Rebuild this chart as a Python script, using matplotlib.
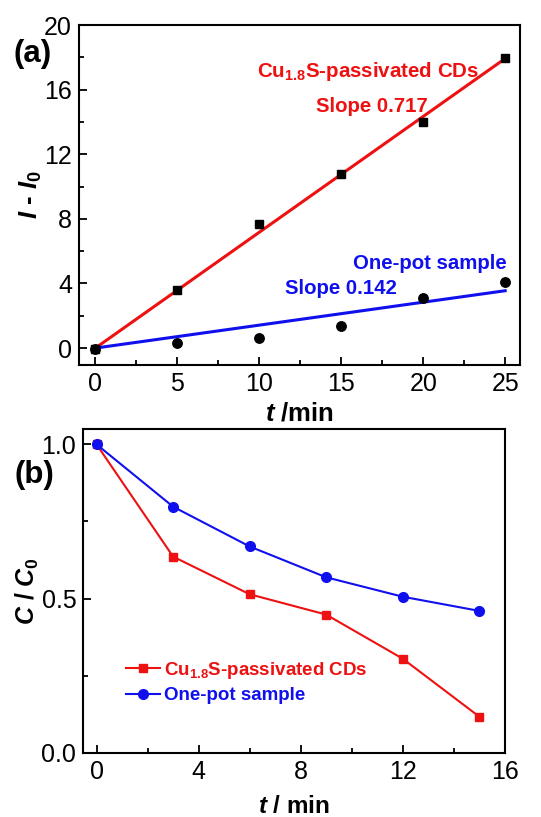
import numpy as np
import matplotlib
matplotlib.use('Agg')
import matplotlib.pyplot as plt
from matplotlib.ticker import MultipleLocator

plt.rcParams['font.family'] = ['Liberation Sans', 'DejaVu Sans']
plt.rcParams['mathtext.fontset'] = 'custom'
plt.rcParams['mathtext.rm'] = 'Liberation Sans:bold'
plt.rcParams['mathtext.it'] = 'Liberation Sans:italic:bold'
plt.rcParams['mathtext.bf'] = 'Liberation Sans:bold'

# panel (a) data
t_a = [0, 5, 10, 15, 20, 25]
cu_a = [-0.05, 3.62, 7.67, 10.79, 13.97, 17.98]
one_a = [-0.05, 0.33, 0.60, 1.36, 3.12, 4.09]
slope_cu = 0.717
slope_one = 0.142

# panel (b) data
t_b = [0, 3, 6, 9, 12, 15]
cu_b = [1.0, 0.636, 0.514, 0.448, 0.305, 0.117]
one_b = [1.0, 0.798, 0.669, 0.569, 0.506, 0.46]

RED = '#ee1111'
BLUE = '#1010ee'

fig = plt.figure(figsize=(5.41, 8.17), dpi=100)
ax1 = fig.add_axes([0.146, 0.5532, 0.815, 0.4162])
ax2 = fig.add_axes([0.154, 0.0787, 0.779, 0.3962])

def style(ax):
  for s in ax.spines.values():
    s.set_linewidth(1.5)
  ax.tick_params(which='both', direction='in', top=False, right=False,
                 labelsize=18, width=1.3, pad=5)
  ax.tick_params(which='major', length=6)
  ax.tick_params(which='minor', length=3.5)

# (a)
tt = np.array([0, 25])
ax1.plot(tt, slope_cu * tt, color=RED, lw=2.2, zorder=2)
ax1.plot(tt, slope_one * tt, color=BLUE, lw=2.2, zorder=2)
ax1.plot(t_a, cu_a, 's', color='black', ms=6, zorder=3)
ax1.plot(t_a, one_a, 'o', color='black', ms=6.8, zorder=3)
ax1.set_xlim(-1, 25.9)
ax1.set_ylim(-1.05, 20)
ax1.xaxis.set_major_locator(MultipleLocator(5))
ax1.xaxis.set_minor_locator(MultipleLocator(2.5))
ax1.yaxis.set_major_locator(MultipleLocator(4))
ax1.yaxis.set_minor_locator(MultipleLocator(2))
style(ax1)
ax1.set_xlabel(r'$t$ /min', fontsize=18.5, fontweight='bold', labelpad=4)
ax1.set_ylabel(r'$I$ - $I_0$', fontsize=18.5, fontweight='bold', labelpad=0)
ax1.text(0.655, 0.862, r'Cu$_{\mathrm{1.8}}$S-passivated CDs', transform=ax1.transAxes,
         ha='center', va='center', color=RED, fontsize=14.8, fontweight='bold')
ax1.text(0.664, 0.759, 'Slope 0.717', transform=ax1.transAxes,
         ha='center', va='center', color=RED, fontsize=14.7, fontweight='bold')
ax1.text(0.796, 0.30, 'One-pot sample', transform=ax1.transAxes,
         ha='center', va='center', color=BLUE, fontsize=14.7, fontweight='bold')
ax1.text(0.594, 0.224, 'Slope 0.142', transform=ax1.transAxes,
         ha='center', va='center', color=BLUE, fontsize=14.7, fontweight='bold')
fig.text(0.061, 0.934, '(a)', fontsize=22.5, fontweight='bold', ha='center', va='center')

# (b)
ax2.plot(t_b, cu_b, '-s', color=RED, lw=1.5, ms=6,
         label=r'Cu$_{\mathrm{1.8}}$S-passivated CDs')
ax2.plot(t_b, one_b, '-o', color=BLUE, lw=1.5, ms=7, label='One-pot sample')
ax2.set_xlim(-0.52, 16)
ax2.set_ylim(0, 1.05)
ax2.xaxis.set_major_locator(MultipleLocator(4))
ax2.xaxis.set_minor_locator(MultipleLocator(2))
ax2.yaxis.set_major_locator(MultipleLocator(0.5))
ax2.yaxis.set_minor_locator(MultipleLocator(0.25))
style(ax2)
ax2.set_xlabel(r'$t$ / min', fontsize=17.5, fontweight='bold', labelpad=8)
ax2.set_ylabel(r'$C$ / $C_{\mathrm{0}}$', fontsize=18, fontweight='bold', labelpad=0)
leg = ax2.legend(loc='lower left', bbox_to_anchor=(0.08, 0.12), frameon=False,
                 fontsize=13.5, handlelength=1.8, handletextpad=0.2,
                 labelspacing=0.35, borderpad=0)
for txt, c in zip(leg.get_texts(), [RED, BLUE]):
  txt.set_color(c)
  txt.set_fontweight('bold')
fig.text(0.063, 0.419, '(b)', fontsize=22.5, fontweight='bold', ha='center', va='center')

fig.savefig('out.png', dpi=100)
